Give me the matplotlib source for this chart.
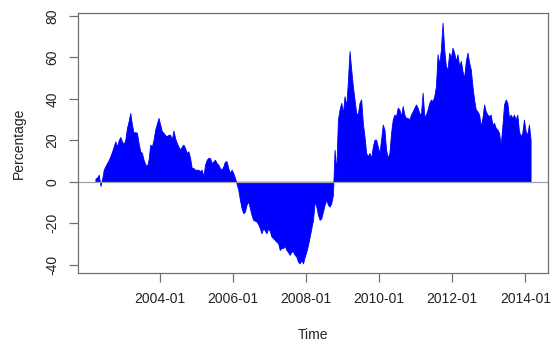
import numpy as np
import matplotlib
matplotlib.use("Agg")
import matplotlib.pyplot as plt

start_year = 2002.2336
step_year = 1.0 / 22.0

# Percentage values
values_a = [
    1.5, 2, 3.4, -2, 1, 5.8, 7.5, 9, 10.5, 12.3, 14.5, 17, 19.5, 17, 20, 21.6, 19.5, 18, 20.3,
    26, 29.2, 33.2, 27.6, 23.6, 24, 23.6, 18.7, 14.7, 13.9, 10.6, 8.5, 7.4, 10.6, 17.9, 17,
    20.3, 25.2, 28, 30.8, 27.6, 24.4, 23.6, 22.5, 22, 22.7, 22.7, 20.3, 24.7, 21, 18.7, 17,
    15.5, 17, 17.9, 16.3, 13.9, 14.7, 11.5, 6.6, 6.6, 5.8, 5.8, 5.8, 5, 5.8, 2.6, 8.2, 10.6,
    11.5, 11.5, 9, 9.8, 10.6, 9, 8.2, 6.6, 5.8, 7.4, 9.8, 9.8, 6.6, 4.2, 5.8, 4.2, 1.9,
    -1, -3.9, -8.7, -12.8, -15.2, -14.4, -11.1, -9.5, -12.8, -16, -18.4, -18.8, -19.2, -20.5,
    -22.4, -24.9, -22.4, -23.5, -24.9, -22.4, -23.9, -26.5, -27.3, -28.1, -29, -29.7, -32.9,
    -32, -32, -31, -32.9, -34, -35.3, -33.7, -33.7, -35.3, -36.2, -38.6, -39.4, -37.8, -39.4,
    -36.2, -33.7, -30.5, -26.5, -22.4, -18.4, -9.5, -12, -16, -18.4, -17.6, -14.4, -11.1,
    -8.7, -11.1, -12, -10.3, -6.3, 15.5,
]
values_b = [
    5, 30, 34.9, 38.1, 33.2, 41.3, 36.5, 48.6, 63.1, 54.2, 46.1, 39.7, 33.2, 32.5, 38.1,
    39.7, 28.4, 21.9, 13.9, 12.3, 13.9, 11.5, 17, 20.3, 20.3, 17, 13.9, 20.3, 27.6, 25.2,
    15.5, 11.5, 13.9, 23.6, 30, 32.4, 31.6, 35.7, 34.9, 31.6, 36.5, 32.4, 30.8, 30.8, 30,
    32.4, 34, 35.7, 37.3, 35.7, 33.2, 32.4, 43, 31.6, 32.4, 34.9, 38.1, 39.7, 38.9, 41.3,
    46.1, 61.5, 56.7, 63.9, 76.8, 63.9, 55.8, 54.2, 62.3, 59.9, 64.7, 62.3, 58.3, 61.5,
    55.8, 58.3, 53.4, 50.2, 58.3, 62.3, 57.5, 54.2, 46.1, 39.7, 34.9, 34, 32.4, 26.8, 30.8,
    37.3, 34, 32.4, 31.6, 32.4, 27.6, 28.4, 26, 25.2, 23.6, 17.9, 26.8, 37.3, 39.7, 38.1,
    30.8, 32.4, 30.8, 32.4, 30, 32.4, 24.4, 21.9, 23.6, 30, 24.4, 22.7, 27.6, 20.3,
]
tick_years = [2004, 2006, 2008, 2010, 2012, 2014]
tick_labels = [f"{y}-01" for y in tick_years]
y_ticks = [-40, -20, 0, 20, 40, 60, 80]

values = np.array(values_a + values_b)
t = start_year + step_year * np.arange(len(values))

plt.rcParams['font.family'] = ['Liberation Sans', 'DejaVu Sans']
fig = plt.figure(figsize=(5.59, 3.47), dpi=100)
ax = fig.add_axes([78/559, 1-273/347, (548-78)/559, (273-13)/347])

ax.fill_between(t, 0, values, color='#0000ff', linewidth=0.6, edgecolor='#0000ff')
ax.axhline(0, color='#a0a0a8', lw=0.9)

xr = t[-1] - t[0]
ax.set_xlim(t[0] - 0.04 * xr, t[-1] + 0.04 * xr)
yr = values.max() - values.min()
ax.set_ylim(values.min() - 0.04 * yr, values.max() + 0.04 * yr)

ax.set_xticks(tick_years)
ax.set_xticklabels(tick_labels)
ax.set_yticks(y_ticks)
ax.set_yticklabels([str(v) for v in y_ticks], rotation=90, va='center')

for s in ax.spines.values():
    s.set_color('#707070')
    s.set_linewidth(0.9)
ax.tick_params(axis='both', direction='out', length=6.5, width=0.9, color='#707070',
               labelsize=10, labelcolor='#222222')
ax.tick_params(axis='x', pad=7)
ax.tick_params(axis='y', pad=7)

ax.set_xlabel('Time', fontsize=10, color='#222222', labelpad=16)
ax.set_ylabel('Percentage', fontsize=10, color='#222222', labelpad=14)

fig.savefig('out.png', dpi=100)
